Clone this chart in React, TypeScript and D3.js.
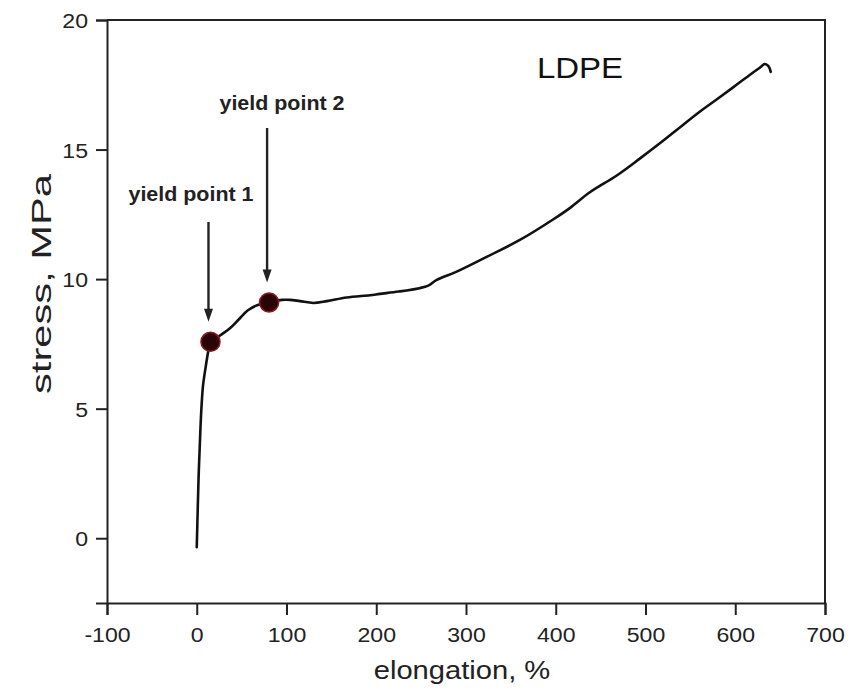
import React, { useEffect, useRef } from "react";
import * as d3 from "d3";

// LDPE tensile curve
const elongation = [
  0, 1, 2, 3.3, 5, 7, 9, 11, 13, 15.3, 25, 37, 47, 57, 68, 80.6, 95, 104, 115, 130, 145, 167, 193, 204, 225,
  248, 258, 267, 289, 323, 360, 397, 416, 438, 468, 494, 516, 540, 560, 580, 598, 615, 627, 633, 637, 639.5,
];
const stress = [
  -0.35, 1.0, 2.3, 3.5, 4.9, 5.9, 6.4, 6.85, 7.25, 7.58, 7.8, 8.1, 8.45, 8.8, 9.0, 9.1, 9.2, 9.2, 9.15, 9.08,
  9.15, 9.29, 9.38, 9.43, 9.52, 9.65, 9.75, 9.96, 10.28, 10.86, 11.51, 12.3, 12.75, 13.35, 14.0, 14.66, 15.24,
  15.9, 16.45, 16.95, 17.41, 17.85, 18.15, 18.3, 18.22, 18.0,
];

const yieldLabels = ["yield point 1", "yield point 2"];
const yieldElong = [15.3, 80.6];
const yieldStress = [7.58, 9.1];

const xTicks = [-100, 0, 100, 200, 300, 400, 500, 600, 700];
const xMinor = [-50, 50, 150, 250, 350, 450, 550, 650];
const yTicks = [0, 5, 10, 15, 20];
const yMinor = [-2.5, 2.5, 7.5, 12.5, 17.5];

const W = 856;
const H = 691;
const FONT = "'Liberation Sans', Arial, sans-serif";
const INK = "#222";
const SX = 1.1; // glyphs in the figure are a bit wide

export default function App() {
  const ref = useRef<SVGSVGElement>(null);

  useEffect(() => {
    if (!ref.current) return;
    const svg = d3.select(ref.current);
    svg.selectAll("*").remove();

    const left = 107, right = 825, top = 20, bottom = 603;
    const x = d3.scaleLinear().domain([-100, 700]).range([left, right]);
    const y = d3.scaleLinear().domain([-2.5, 20]).range([bottom, top]);
    const plain = (d: d3.NumberValue) => String(d);

    svg.append("rect").attr("width", W).attr("height", H).attr("fill", "#fff");

    // frame (top + right, no ticks)
    svg.append("path")
      .attr("d", `M${left},${top}H${right}V${bottom}`)
      .attr("fill", "none").attr("stroke", INK).attr("stroke-width", 2);

    // x axis
    const gx = svg.append("g").attr("transform", `translate(0,${bottom})`);
    gx.call(d3.axisBottom(x).tickValues(xMinor).tickSize(6).tickFormat(() => ""));
    gx.call(d3.axisBottom(x).tickValues(xTicks).tickSize(12).tickFormat(plain));
    gx.selectAll(".domain").attr("stroke", INK).attr("stroke-width", 2);
    gx.selectAll("line").attr("stroke", INK).attr("stroke-width", 2);
    gx.selectAll("text")
      .attr("y", 39).attr("dy", 0)
      .attr("transform", `scale(${SX},1)`)
      .style("font-family", FONT).style("font-size", "21px").attr("fill", INK);

    // y axis
    const gy = svg.append("g").attr("transform", `translate(${left},0)`);
    gy.call(d3.axisLeft(y).tickValues(yMinor).tickSize(6).tickFormat(() => ""));
    gy.call(d3.axisLeft(y).tickValues(yTicks).tickSize(11).tickFormat(plain));
    gy.selectAll(".domain").attr("stroke", INK).attr("stroke-width", 2);
    gy.selectAll("line").attr("stroke", INK).attr("stroke-width", 2);
    gy.selectAll("text")
      .attr("x", -19 / SX).attr("dy", "0.36em")
      .attr("transform", `scale(${SX},1)`)
      .style("font-family", FONT).style("font-size", "21px").attr("fill", INK);

    // axis titles
    svg.append("text")
      .attr("transform", `translate(${(left + right) / 2 - 4},679) scale(${SX},1)`)
      .attr("text-anchor", "middle")
      .style("font-family", FONT).style("font-size", "26.5px").attr("fill", INK)
      .text("elongation, %");
    svg.append("text")
      .attr("transform", `translate(51,284) rotate(-90)`)
      .attr("text-anchor", "middle")
      .attr("textLength", 220).attr("lengthAdjust", "spacingAndGlyphs")
      .style("font-family", FONT).style("font-size", "28px").attr("fill", INK)
      .text("stress, MPa");

    // curve
    const pts = elongation.map((e, i) => [e, stress[i]] as [number, number]);
    const line = d3.line<[number, number]>()
      .x((d) => x(d[0])).y((d) => y(d[1]))
      .curve(d3.curveCatmullRom.alpha(0.5));
    svg.append("path").datum(pts)
      .attr("d", line)
      .attr("fill", "none").attr("stroke", "#111").attr("stroke-width", 2.6)
      .attr("stroke-linejoin", "round").attr("stroke-linecap", "round");

    // yield markers
    yieldElong.forEach((e, i) => {
      svg.append("circle")
        .attr("cx", x(e)).attr("cy", y(yieldStress[i])).attr("r", 9.5)
        .attr("fill", "#2a0307").attr("stroke", "#8a1a22").attr("stroke-width", 1.6);
    });

    // arrows + labels
    const arrowTop = [222, 128];
    const labelPos: [number, number][] = [[191, 201], [282, 110]];
    yieldElong.forEach((e, i) => {
      const ax = x(e) - 2;
      const tip = y(yieldStress[i]) - 20;
      svg.append("line")
        .attr("x1", ax).attr("x2", ax).attr("y1", arrowTop[i]).attr("y2", tip - 8)
        .attr("stroke", "#222").attr("stroke-width", 2.4);
      svg.append("path")
        .attr("d", `M${ax},${tip}L${ax - 4.5},${tip - 13}L${ax + 4.5},${tip - 13}Z`)
        .attr("fill", "#222");
      svg.append("text")
        .attr("transform", `translate(${labelPos[i][0]},${labelPos[i][1]}) scale(${SX},1)`)
        .attr("text-anchor", "middle")
        .style("font-family", FONT).style("font-size", "19.5px").style("font-weight", "bold")
        .attr("fill", "#222")
        .text(yieldLabels[i]);
    });

    svg.append("text")
      .attr("transform", `translate(580,78) scale(${SX},1)`)
      .attr("text-anchor", "middle")
      .style("font-family", FONT).style("font-size", "30px").attr("fill", "#111")
      .text("LDPE");
  }, []);

  return (
    <div style={{ position: "absolute", left: 0, top: 0 }}>
      <svg ref={ref} width={W} height={H} style={{ display: "block" }} />
    </div>
  );
}
